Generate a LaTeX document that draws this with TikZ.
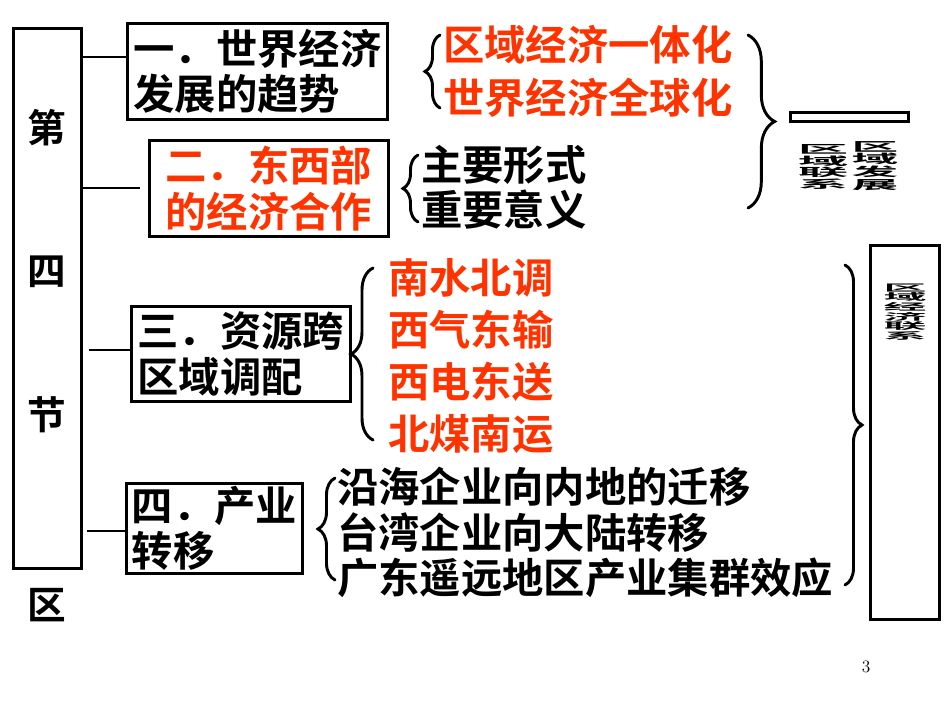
\documentclass[tikz,border=0pt]{standalone}
\usepackage{fontspec}
\newfontfamily\cjk{Noto Sans CJK SC}[BoldFont={Noto Sans CJK SC Bold}]
\usetikzlibrary{decorations.pathreplacing}
\definecolor{hotred}{RGB}{255,51,0}

\begin{document}
\begin{tikzpicture}[x=0.75pt,y=0.75pt,yscale=-1,xscale=1,
    frame/.style={draw, line width=2.2pt, inner sep=0pt},
    link/.style={line width=1.6pt},
    zh/.style={inner sep=0pt, align=left, font=\cjk\bfseries\fontsize{31}{34}\selectfont},
    zhred/.style={zh, text=hotred},
    zhbig/.style={inner sep=0pt, font=\cjk\bfseries\fontsize{29}{32}\selectfont},
    blur/.style={inner sep=0pt, font=\cjk\bfseries\fontsize{28}{28}\selectfont},
    curly/.style={decorate, decoration={brace, amplitude=#1}, line width=2.2pt, line cap=round}]
                \useasboundingbox (0,0) rectangle (950,713);

                %Shape: Rectangle [id:sec]
                \node (sec) [frame, anchor=north west, minimum width=51pt, minimum height=405pt] at (12,27) {};
                % Text Node
                \node (di) [zhbig] at (47,128) {第};
                % Text Node
                \node (si) [zhbig] at (47,272) {四};
                % Text Node
                \node (jie) [zhbig] at (47,415) {节};
                % Text Node
                \node (qu) [zhbig] at (47,605) {区};

                %Shape: Rectangle [id:topic1]
                \node (topic1) [frame, zh, anchor=north west, minimum width=195pt, minimum height=72pt] at (126,22) {一．世界经济\\发展的趋势};
                %Shape: Rectangle [id:topic2]
                \node (topic2) [frame, zhred, anchor=north west, minimum width=179.25pt, minimum height=72pt] at (148,139) {二．东西部\\的经济合作};
                %Shape: Rectangle [id:topic3]
                \node (topic3) [frame, zh, anchor=north west, minimum width=164.25pt, minimum height=71.25pt] at (130,305) {三．资源跨\\区域调配};
                %Shape: Rectangle [id:topic4]
                \node (topic4) [frame, zh, anchor=north west, minimum width=132pt, minimum height=67.5pt] at (125,482) {四．产业\\转移};

                %Straight Lines
                \draw [link] (sec.east |- 0,57) -- (topic1.west |- 0,57);
                %Straight Lines
                \draw [link, shorten >=6pt] (sec.east |- 0,188) -- (topic2.west |- 0,188);
                %Straight Lines
                \draw [link, shorten <=4.5pt] (sec.east |- 0,350) -- (topic3.west |- 0,350);
                %Straight Lines
                \draw [link, shorten <=3pt] (sec.east |- 0,531) -- (topic4.west |- 0,531);

                % Text Node
                \node (trend) [zhred, anchor=west] at (443,71.5) {区域经济一体化\\[6pt]世界经济全球化};
                % Text Node
                \node (coop) [zh, anchor=west] at (421,187.5) {主要形式\\重要意义};
                % Text Node
                \node (alloc) [zhred, anchor=west] at (388,356) {南水北调\\[5pt]西气东输\\[5pt]西电东送\\[5pt]北煤南运};
                % Text Node
                \node (move) [zh, anchor=west] at (337,532.5) {沿海企业向内地的迁移\\台湾企业向大陆转移\\广东遥远地区产业集群效应};

                %Curly Braces
                \draw [curly=11.25pt] (440,108) -- (440,35);
                \draw [curly=11.25pt] (418,222) -- (418,155);
                \draw [curly=16.5pt] (373,440) -- (373,268);
                \draw [curly=12.75pt] (335,580) -- (335,478);
                \draw [curly=20pt] (748,35) -- (748,208);
                \draw [curly=12.75pt] (845,265) -- (845,585);

                %Shape: Rectangle [id:linkbox]
                \node (linkbox) [frame, anchor=north west, minimum width=88.5pt, minimum height=6.75pt] at (789,111) {};
                % Text Node
                \node (blurA) [blur] at (823,167) {\scalebox{1.35}[0.3]{\shortstack{区\\域\\联\\系}}};
                % Text Node
                \node (blurB) [blur] at (875,166) {\scalebox{1.25}[0.33]{\shortstack{区\\域\\发\\展}}};

                %Shape: Rectangle [id:endbox]
                \node (endbox) [frame, anchor=north west, minimum width=51.75pt, minimum height=280.5pt] at (869,244) {};
                % Text Node
                \node (blurC) [blur] at (905,312) {\scalebox{1.15}[0.25]{\shortstack{区\\域\\经\\济\\联\\系}}};

                % Text Node
                \node (pageno) [inner sep=0pt, font=\fontsize{13}{15}\selectfont] at (866,667) {3};

            \end{tikzpicture}
\end{document}
